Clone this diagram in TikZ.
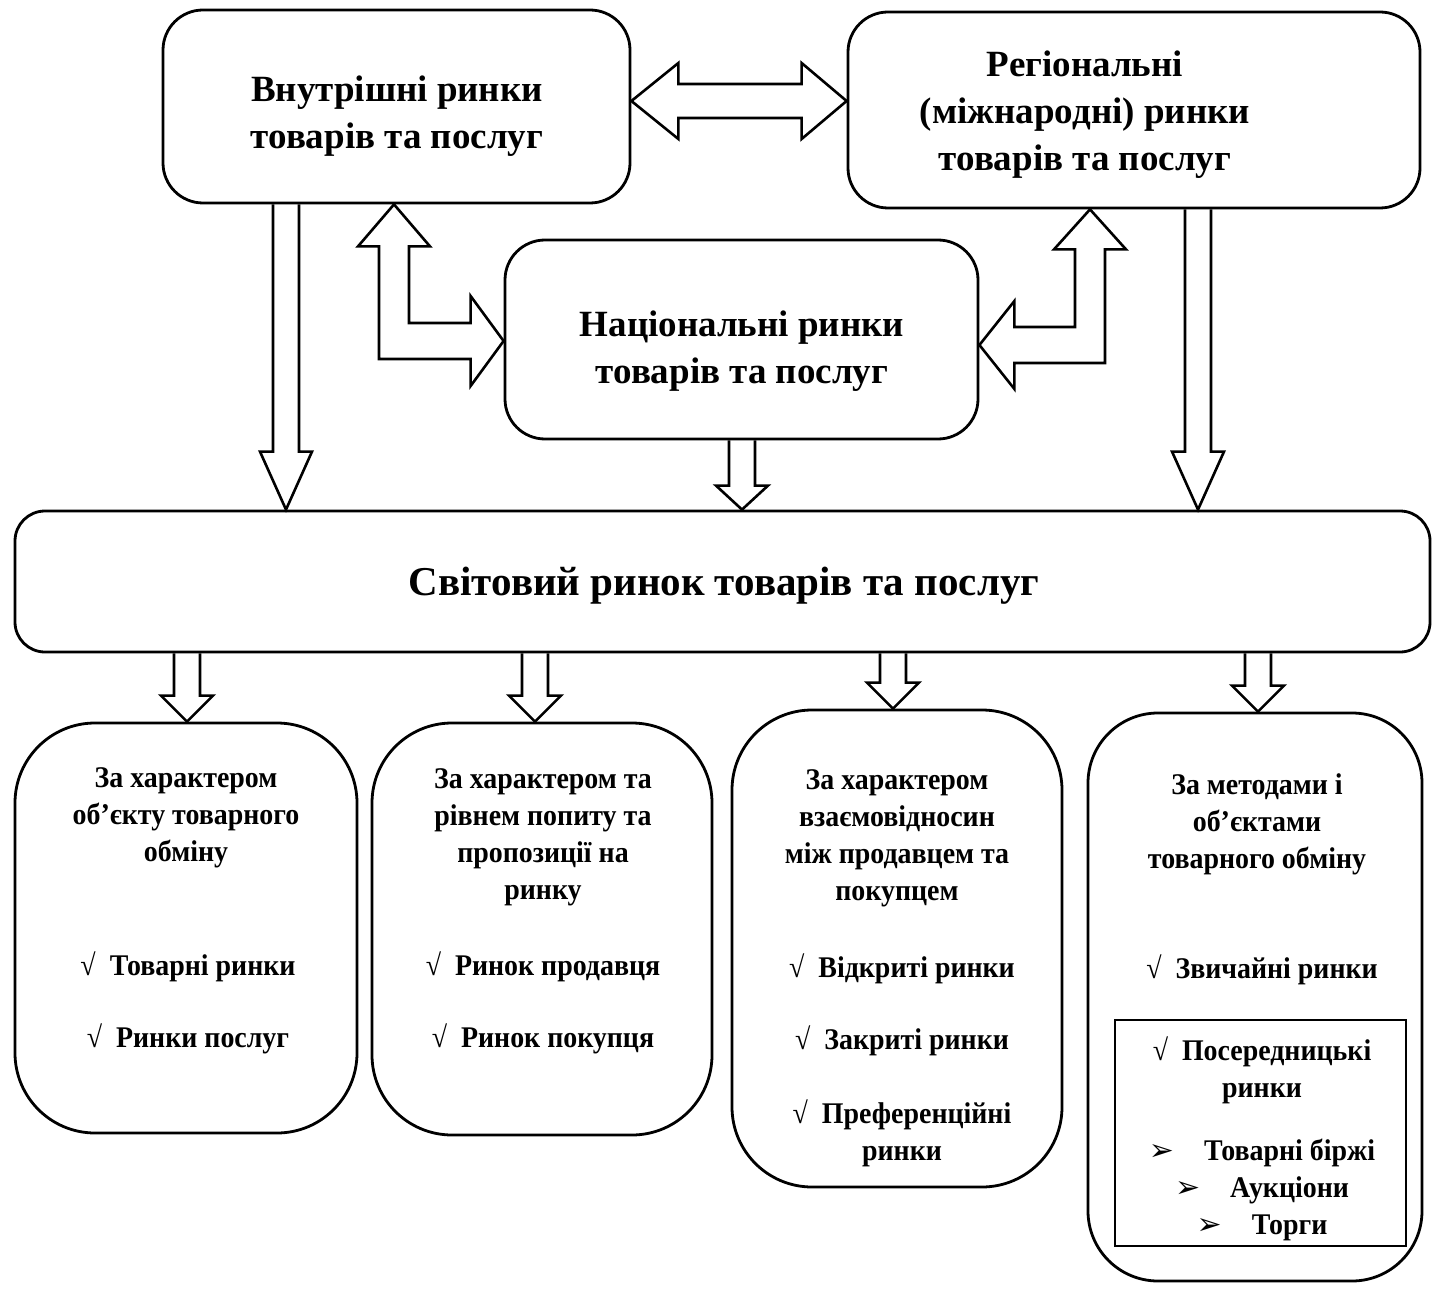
\documentclass[tikz,border=0pt]{standalone}
\usepackage{fontspec}
\setmainfont{Liberation Serif}
\newfontfamily\narrowserif[FakeStretch=0.93]{Liberation Serif}
\newfontfamily\dingfont{DejaVu Sans}
\usetikzlibrary{positioning, calc}

% hollow block arrow pointing down: x, from node, to node, head length
\newcommand{\blockdown}[4]{%
  \draw[blockarrow] let \p1=(#1,0 |- #2.south), \p2=(#1,0 |- #3.north) in
    (\x1-13pt,\y1) -- (\x1-13pt,\y2+#4pt) -- (\x1-26pt,\y2+#4pt) -- (\x1,\y2)
    -- (\x1+26pt,\y2+#4pt) -- (\x1+13pt,\y2+#4pt) -- (\x1+13pt,\y1);}
\newcommand{\tick}{{\mdseries √}\ \ }
\newcommand{\pointer}{{\dingfont\bfseries\fontsize{30}{30}\selectfont ➢}\quad}

\begin{document}
\begin{tikzpicture}[
                x=1pt, y=-1pt,
                mainbox/.style={draw, line width=2.8pt, rounded corners=40pt},
                maintext/.style={align=center, inner sep=0pt, font=\fontsize{37}{47}\selectfont\bfseries},
                worldbox/.style={draw, line width=2.8pt, rounded corners=30pt},
                groupbox/.style={draw, line width=2.8pt, rounded corners=80pt},
                grouptext/.style={align=center, inner sep=0pt, font=\narrowserif\fontsize{30}{37}\selectfont\bfseries},
                listbox/.style={draw, line width=1.4pt},
                blockarrow/.style={line width=2.6pt, line join=miter}
            ]
            \useasboundingbox (0,0) rectangle (1432,1289);

            % upper level
            \node[mainbox, minimum width=467, minimum height=193] (inner) at (396.5,106.5) {};
            \node[maintext] (innert) at (397,116) {Внутрішні ринки\\товарів та послуг};
            \node[mainbox, minimum width=572, minimum height=196] (reg) at (1134,110) {};
            \node[maintext] (regt) at (1085,115) {Регіональні\\(міжнародні) ринки\\товарів та послуг};
            \node[mainbox, minimum width=473, minimum height=199] (nat) at (741.5,339.5) {};
            \node[maintext] (natt) at (742,351) {Національні ринки\\товарів та послуг};

            % world market
            \node[worldbox, minimum width=1415, minimum height=141] (world) at (722.5,581.5) {};
            \node[maintext, font=\fontsize{41}{47}\selectfont\bfseries] (worldt) at (724,586) {Світовий ринок товарів та послуг};

            % classification groups
            \node[groupbox, minimum width=342, minimum height=410] (g1) at (186,928) {};
            \node[groupbox, minimum width=340, minimum height=412] (g2) at (542,929) {};
            \node[groupbox, minimum width=330, minimum height=477] (g3) at (897,948.5) {};
            \node[groupbox, rounded corners=70pt, minimum width=334, minimum height=568] (g4) at (1255,997) {};

            \node[grouptext] (g1t) at (186,818) {За характером\\об’єкту товарного\\обміну};
            \node[grouptext] (g1l) at (188,1003) {\tick Товарні ринки\\[35pt]\tick Ринки послуг};
            \node[grouptext] (g2t) at (543,837) {За характером та\\рівнем попиту та\\пропозиції на\\ринку};
            \node[grouptext] (g2l) at (543,1003) {\tick Ринок продавця\\[35pt]\tick Ринок покупця};
            \node[grouptext] (g3t) at (897,838) {За характером\\взаємовідносин\\між продавцем та\\покупцем};
            \node[grouptext] (g3l) at (902,1060) {\tick Відкриті ринки\\[35pt]\tick Закриті ринки\\[37pt]\tick Преференційні\\ринки};
            \node[grouptext] (g4t) at (1257,824) {За методами і\\об’єктами\\товарного обміну};
            \node[grouptext] (g4l) at (1262,970) {\tick Звичайні ринки};
            \node[listbox, minimum width=291, minimum height=226] (g4box) at (1260.5,1133) {};
            \node[grouptext] (g4boxt) at (1262,1139) {\tick Посередницькі\\ринки\\[26pt]\pointer Товарні біржі\\\pointer Аукціони\\\pointer Торги};

            % arrows between the upper markets
            \draw[blockarrow] let \p1=(inner.east |- 0,101), \p2=(reg.west |- 0,101) in
                (\x1,\y1) -- (\x1+47pt,\y1+38pt) -- (\x1+47pt,\y1+17pt) -- (\x2-45pt,\y1+17pt)
                -- (\x2-45pt,\y1+38pt) -- (\x2,\y2) -- (\x2-45pt,\y1-38pt) -- (\x2-45pt,\y1-17pt)
                -- (\x1+47pt,\y1-17pt) -- (\x1+47pt,\y1-38pt) -- cycle;
            \draw[blockarrow] let \p1=(394,0 |- inner.south), \p2=(nat.west |- 0,341) in
                (\x1,\y1) -- (\x1+36pt,\y1-42pt) -- (\x1+15pt,\y1-42pt) -- (\x1+15pt,\y2+18pt)
                -- (\x2-33pt,\y2+18pt) -- (\x2-33pt,\y2+45pt) -- (\x2,\y2) -- (\x2-33pt,\y2-45pt)
                -- (\x2-33pt,\y2-18pt) -- (\x1-15pt,\y2-18pt) -- (\x1-15pt,\y1-42pt) -- (\x1-36pt,\y1-42pt) -- cycle;
            \draw[blockarrow] let \p1=(1090,0 |- reg.south), \p2=(nat.east |- 0,345) in
                (\x1,\y1) -- (\x1-36pt,\y1-40pt) -- (\x1-15pt,\y1-40pt) -- (\x1-15pt,\y2+18pt)
                -- (\x2+35pt,\y2+18pt) -- (\x2+35pt,\y2+44pt) -- (\x2,\y2) -- (\x2+35pt,\y2-44pt)
                -- (\x2+35pt,\y2-18pt) -- (\x1+15pt,\y2-18pt) -- (\x1+15pt,\y1-40pt) -- (\x1+36pt,\y1-40pt) -- cycle;

            % arrows to the world market
            \blockdown{286}{inner}{world}{58}
            \blockdown{742}{nat}{world}{24}
            \blockdown{1198}{reg}{world}{58}

            % arrows to the groups
            \blockdown{187}{world}{g1}{26}
            \blockdown{535}{world}{g2}{26}
            \blockdown{893}{world}{g3}{26}
            \blockdown{1258}{world}{g4}{26}
        \end{tikzpicture}
\end{document}
